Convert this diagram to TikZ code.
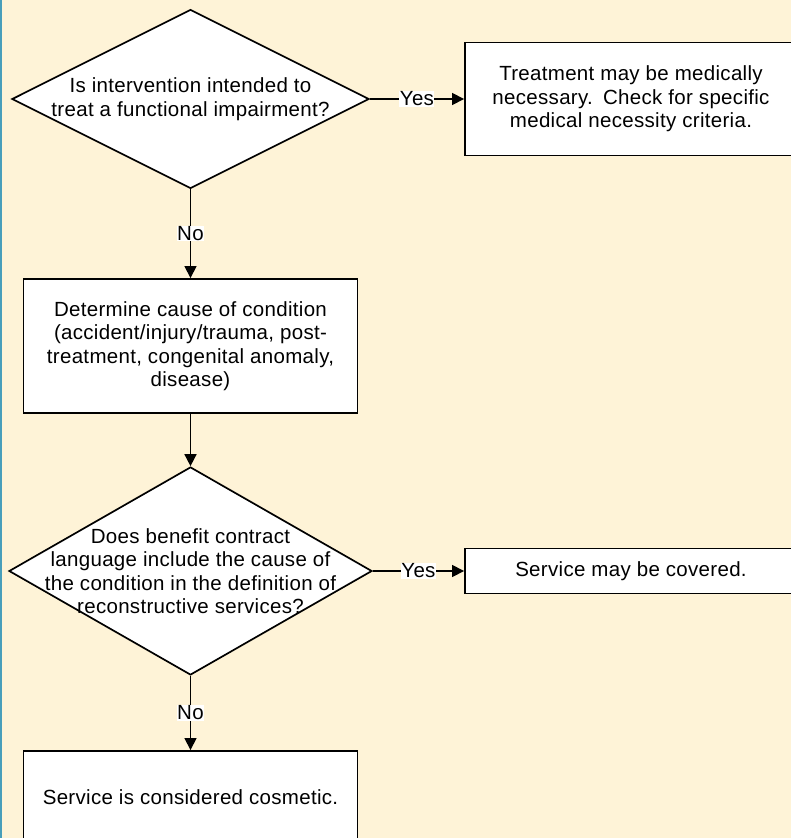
\documentclass[tikz,border=0pt]{standalone}
\usepackage{fontspec}
\setmainfont{Liberation Sans}[LetterSpace=1.5]
\usetikzlibrary{arrows.meta,positioning,shapes.geometric}
\definecolor{cream}{RGB}{254,243,215}
\definecolor{edgeblue}{RGB}{72,158,186}

\begin{document}
\begin{tikzpicture}[x=1pt,y=-1pt,font=\fontsize{20.5}{23.5}\selectfont,
  box/.style={draw,fill=white,line width=1.9pt,minimum width=334pt,align=center,inner sep=0pt},
  decision/.style={draw,fill=white,diamond,line width=1.7pt,inner sep=0pt},
  flow/.style={-{Triangle[length=12pt,width=12pt]},line width=1.6pt},
  answer/.style={fill=white,inner sep=0.5pt}]
\useasboundingbox (0,0) rectangle (791,838);
\clip (0,0) rectangle (791,838);
\fill[cream] (0,0) rectangle (791,838);
\draw[edgeblue,line width=1.5pt] (0.75,0) -- (0.75,838);
% first question
\node[decision,minimum width=357pt,minimum height=179pt] (intent) at (190.5,99) {};
\node[align=center] (intenttext) at (intent.center) {Is intervention intended to\\treat a functional impairment?};
\node[box,minimum width=332pt,minimum height=113pt] (medical) at (631,99) {Treatment may be medically\\necessary.\enspace Check for specific\\medical necessity criteria.};
\node[box,minimum height=134pt] (cause) at (190.5,346) {Determine cause of condition\\(accident/injury/trauma, post-\\treatment, congenital anomaly,\\disease)};
% second question
\node[decision,minimum width=363pt,minimum height=208pt] (contract) at (190.5,571) {};
\node[align=center] (contracttext) at (contract.center) {Does benefit contract\\language include the cause of\\the condition in the definition of\\reconstructive services?};
\node[box,minimum width=332pt,minimum height=45pt] (covered) at (631,571) {Service may be covered.};
\node[box,minimum height=92pt] (cosmetic) at (190.5,797) {Service is considered cosmetic.};
% connectors
\draw[flow] (intent.east) -- node[answer]{Yes} (medical.west);
\draw[flow] (intent.south) -- node[answer]{No} (cause.north);
\draw[flow] (cause.south) -- (contract.north);
\draw[flow] (contract.east) -- node[answer]{Yes} (covered.west);
\draw[flow] (contract.south) -- node[answer]{No} (cosmetic.north);
\end{tikzpicture}
\end{document}
